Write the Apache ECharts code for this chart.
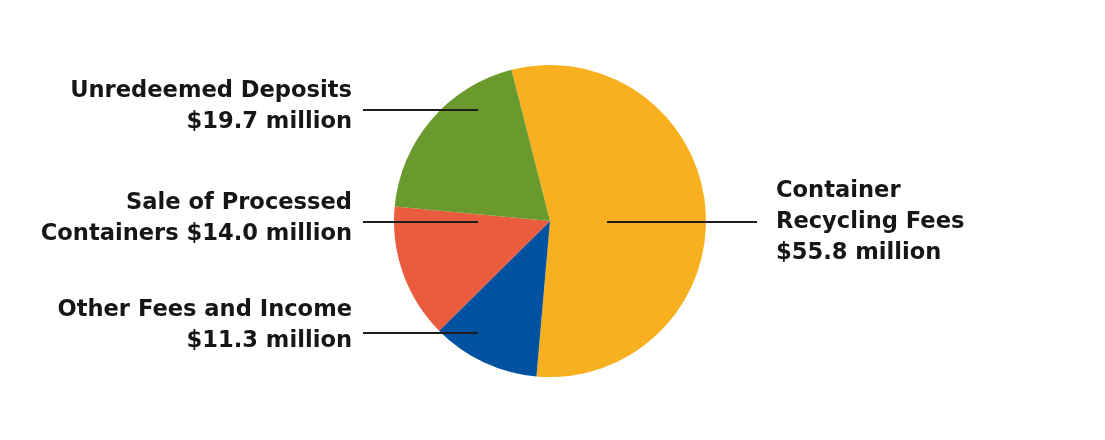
<!DOCTYPE html>
<html>
<head>
<meta charset="utf-8">
<script src="https://cdn.jsdelivr.net/npm/echarts@6/dist/echarts.min.js"></script>
<style>html,body{margin:0;padding:0;background:#fff;}#c{width:1105px;height:440px;}</style>
</head>
<body>
<div id="c"></div>
<script>
// Data (clockwise from the top-left boundary)
var categories = ['Container\nRecycling Fees', 'Other Fees and Income', 'Sale of Processed\nContainers', 'Unredeemed Deposits'];
var values = [55.8, 11.3, 14.0, 19.7];
var valueSeparators = ['\n', '\n', ' ', '\n'];
var colors = ['#F8B01F', '#0052A1', '#E95D3E', '#6A9A2D'];

var CX = 550, CY = 221, R = 156;
// label placement per slice (relative to pie centre)
var labelPlace = [
  { side: 'right', textX: 226, textY: 1,   lineY: 1,   lineIn: 57 },
  { side: 'left',  textX: -198, textY: 105, lineY: 112, lineIn: -72 },
  { side: 'left',  textX: -198, textY: -2,  lineY: 1,   lineIn: -72 },
  { side: 'left',  textX: -198, textY: -114, lineY: -111, lineIn: -72 }
];

function makeData(transparent) {
  return categories.map(function (n, i) {
    return { name: n, value: values[i], itemStyle: { color: transparent ? 'rgba(0,0,0,0)' : colors[i] } };
  });
}

var common = {
  type: 'pie',
  center: [CX, CY],
  radius: [0, R],
  startAngle: 104.3,
  clockwise: true
};

var chart = echarts.init(document.getElementById('c'), null, { renderer: 'canvas' });
chart.setOption({
  animation: false,
  series: [
    Object.assign({}, common, {
      z: 2,
      data: makeData(false),
      itemStyle: { borderWidth: 0 },
      label: { show: false },
      labelLine: { show: false },
      emphasis: { disabled: true }
    }),
    Object.assign({}, common, {
      z: 5,
      silent: true,
      data: makeData(true),
      itemStyle: { borderWidth: 0 },
      label: {
        show: true,
        position: 'outside',
        fontFamily: 'DejaVu Sans',
        fontWeight: 'bold',
        fontSize: 22.6,
        lineHeight: 31,
        color: '#161616',
        formatter: function (p) {
          return p.name + valueSeparators[p.dataIndex] + '$' + p.value.toFixed(1) + ' million';
        }
      },
      labelLine: { show: true, lineStyle: { color: '#1e1e1e', width: 2 } },
      labelLayout: function (p) {
        var L = labelPlace[p.dataIndex];
        var lineEndX = L.side === 'left' ? CX + L.textX + 11 : CX + L.textX - 19;
        var ly = CY + L.lineY;
        return {
          x: CX + L.textX,
          y: CY + L.textY,
          align: L.side === 'left' ? 'right' : 'left',
          verticalAlign: 'middle',
          labelLinePoints: [[CX + L.lineIn, ly], [(CX + L.lineIn + lineEndX) / 2, ly], [lineEndX, ly]]
        };
      }
    })
  ]
});
</script>
</body>
</html>
